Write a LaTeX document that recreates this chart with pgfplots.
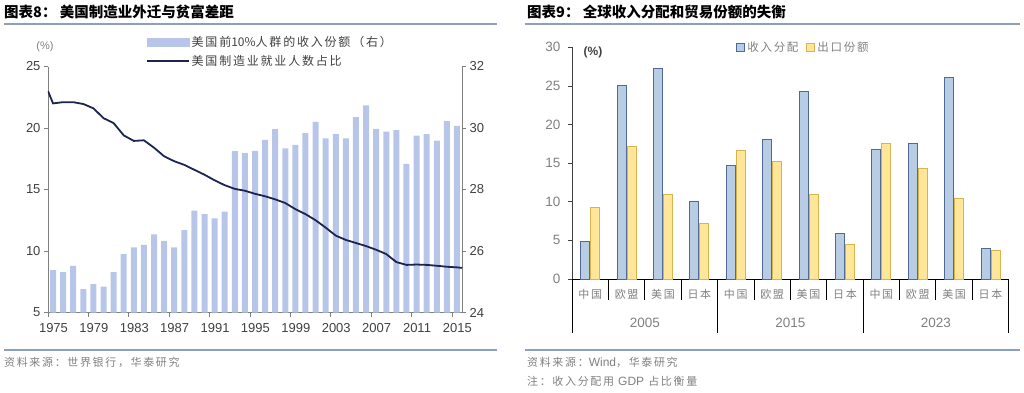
\documentclass[border=0pt]{standalone}
\usepackage{pgfplots}
\pgfplotsset{compat=1.18}
\usepackage{fontspec}
\setmainfont{Liberation Sans}
\newfontfamily\cjk{Noto Sans CJK SC}
\newfontfamily\cjksp[LetterSpace=15]{Noto Sans CJK SC}
\definecolor{barblue}{RGB}{183,198,232}
\definecolor{navyline}{RGB}{28,36,80}
\definecolor{axgray}{RGB}{128,128,128}
\definecolor{txtdark}{RGB}{64,64,64}
\definecolor{txtgray}{RGB}{128,128,128}
\definecolor{rulecol}{RGB}{140,160,190}
\definecolor{cblue}{RGB}{184,204,228}
\definecolor{cblueedge}{RGB}{80,105,150}
\definecolor{cyellow}{RGB}{255,230,153}
\definecolor{cyellowedge}{RGB}{214,180,80}
\begin{document}
\begin{tikzpicture}
\path[use as bounding box] (0pt,0pt) rectangle (1024pt,392pt);
% titles and rules
\node[anchor=west, inner sep=0pt, text=black] at (4pt,380pt) {\cjk\bfseries\fontsize{14.5}{15}\selectfont 图表8：\ 美国制造业外迁与贫富差距};
\node[anchor=west, inner sep=0pt, text=black] at (527pt,380pt) {\cjk\bfseries\fontsize{14.5}{15}\selectfont 图表9：\ 全球收入分配和贸易份额的失衡};
\draw[rulecol, line width=1.3pt] (4pt,368pt) -- (497pt,368pt);
\draw[rulecol, line width=1.3pt] (525pt,368pt) -- (1020pt,368pt);
\draw[rulecol, line width=1.3pt] (4pt,42pt) -- (497pt,42pt);
\draw[rulecol, line width=1.3pt] (525pt,42pt) -- (1020pt,42pt);
\node[anchor=west, inner sep=0pt, text=txtgray] at (4pt,30pt) {\cjksp\fontsize{11}{12}\selectfont 资料来源：世界银行，华泰研究};
\node[anchor=west, inner sep=0pt, text=txtgray] at (527pt,30pt) {\cjksp\fontsize{11}{12}\selectfont 资料来源：{\rmfamily\fontsize{12}{12}\selectfont Wind}，华泰研究};
\node[anchor=west, inner sep=0pt, text=txtgray] at (527pt,11pt) {\cjksp\fontsize{11}{12}\selectfont 注：收入分配用 {\rmfamily\fontsize{12}{12}\selectfont GDP} 占比衡量};
\node[text=txtgray, inner sep=0pt] at (45pt,345pt) {\fontsize{11}{12}\selectfont (\%)};
\node[text=txtdark, inner sep=0pt] at (593pt,340pt) {\bfseries\fontsize{12}{12}\selectfont (\%)};

% ---------- left chart: bars on right axis ----------
\begin{axis}[
  at={(48pt,79.5pt)}, anchor=south west, scale only axis,
  width=414pt, height=246pt,
  xmin=1974.5, xmax=2015.5, ymin=24, ymax=32,
  axis y line*=right, axis x line*=bottom,
  axis line style={draw=axgray, line width=0.8pt},
  ytick={24,26,28,30,32},
  xtick={1974.5,1978.5,1982.5,1986.5,1990.5,1994.5,1998.5,2002.5,2006.5,2010.5,2014.5},
  xticklabels={1975,1979,1983,1987,1991,1995,1999,2003,2007,2011,2015},
  xticklabel style={xshift=5.5pt, yshift=-3pt},
  tick align=outside, major tick length=4pt,
  tick style={draw=axgray, line width=0.8pt},
  ticklabel style={font=\fontsize{13}{13}\selectfont, text=txtdark},
  /pgf/number format/assume math mode=true,
]
\addplot[ybar, bar width=6pt, fill=barblue, draw=none] coordinates {
(1975,25.38) (1976,25.31) (1977,25.52) (1978,24.76) (1979,24.92) (1980,24.84)
(1981,25.31) (1982,25.90) (1983,26.12) (1984,26.20) (1985,26.54) (1986,26.33)
(1987,26.12) (1988,26.68) (1989,27.31) (1990,27.20) (1991,27.06) (1992,27.28)
(1993,29.25) (1994,29.18) (1995,29.26) (1996,29.61) (1997,29.96) (1998,29.34)
(1999,29.45) (2000,29.83) (2001,30.20) (2002,29.66) (2003,29.80) (2004,29.66)
(2005,30.35) (2006,30.74) (2007,29.97) (2008,29.88) (2009,29.93) (2010,28.83)
(2011,29.75) (2012,29.80) (2013,29.59) (2014,30.22) (2015,30.07)
};
\end{axis}

% ---------- left chart: line on left axis ----------
\begin{axis}[
  at={(48pt,79.5pt)}, anchor=south west, scale only axis,
  width=414pt, height=246pt,
  xmin=1974.5, xmax=2015.5, ymin=5, ymax=25,
  axis y line*=left, axis x line=none,
  axis line style={draw=axgray, line width=0.8pt},
  ytick={5,10,15,20,25},
  tick align=outside, major tick length=4pt,
  tick style={draw=axgray, line width=0.8pt},
  ticklabel style={font=\fontsize{13}{13}\selectfont, text=txtdark},
  /pgf/number format/assume math mode=true,
  legend style={at={(0.236,1.132)}, anchor=north west, draw=none, fill=none,
    font=\cjksp\fontsize{12}{12}\selectfont, text=txtdark, row sep=3pt, inner sep=0pt},
  legend cell align=left,
]
\addlegendimage{legend image code/.code={\fill[barblue] (0pt,-4pt) rectangle (42pt,4pt);}}
\addlegendentry{美国前{\cjk 10\%}人群的收入份额（右）}
\addplot[navyline, line width=1.8pt,
  legend image code/.code={\draw[navyline, line width=1.8pt] (0pt,0pt) -- (42pt,0pt);}] coordinates {
(1974.5,23.0) (1975,22.0) (1976,22.1) (1977,22.1) (1978,21.95) (1979,21.6) (1980,20.8)
(1981,20.4) (1982,19.4) (1983,18.95) (1984,19.0) (1985,18.4) (1986,17.7) (1987,17.3)
(1988,17.0) (1989,16.6) (1990,16.2) (1991,15.75) (1992,15.35) (1993,15.05) (1994,14.9)
(1995,14.65) (1996,14.45) (1997,14.2) (1998,13.9) (1999,13.4) (2000,13.0) (2001,12.5)
(2002,11.9) (2003,11.25) (2004,10.9) (2005,10.65) (2006,10.4) (2007,10.1) (2008,9.75)
(2009,9.1) (2010,8.87) (2011,8.9) (2012,8.87) (2013,8.8) (2014,8.72) (2015,8.67) (2015.5,8.63)
};
\addlegendentry{美国制造业就业人数占比}
\end{axis}

% ---------- right chart ----------
\begin{axis}[
  at={(572pt,113pt)}, anchor=south west, scale only axis,
  width=436.7pt, height=231.7pt,
  xmin=0, xmax=12, ymin=0, ymax=30,
  axis y line*=left, axis x line*=bottom,
  x axis line style={draw=black, line width=0.9pt},
  y axis line style={draw=txtdark, line width=0.8pt},
  ytick={0,5,10,15,20,25,30},
  xtick={0.5,1.5,2.5,3.5,4.5,5.5,6.5,7.5,8.5,9.5,10.5,11.5},
  xticklabels={中国,欧盟,美国,日本,中国,欧盟,美国,日本,中国,欧盟,美国,日本},
  xtick style={draw=none},
  ytick style={draw=txtdark, line width=0.8pt},
  tick align=outside, major tick length=4pt,
  yticklabel style={font=\fontsize{13.5}{13.5}\selectfont, text=txtgray, xshift=-4pt},
  xticklabel style={font=\cjksp\fontsize{11}{11}\selectfont, text=txtgray, yshift=-3pt},
  /pgf/number format/assume math mode=true,
  clip=false,
  legend style={at={(0.376,1.001)}, anchor=west, draw=none, fill=none,
    font=\cjksp\fontsize{11.5}{12}\selectfont, text=txtgray, inner sep=0pt,
    /tikz/every even column/.append style={column sep=6pt}},
  legend columns=2,
  legend image code/.code={\draw[#1] (0pt,-4pt) rectangle (8pt,4pt);},
]
\addplot[ybar, bar width=9pt, bar shift=-5pt, fill=cblue, draw=cblueedge, line width=0.9pt] coordinates {
(0.5,4.8) (1.5,25.0) (2.5,27.3) (3.5,10.1)
(4.5,14.7) (5.5,18.1) (6.5,24.3) (7.5,5.9)
(8.5,16.8) (9.5,17.5) (10.5,26.1) (11.5,4.0)
};
\addlegendentry{收入分配}
\addplot[ybar, bar width=9pt, bar shift=5pt, fill=cyellow, draw=cyellowedge, line width=0.9pt] coordinates {
(0.5,9.25) (1.5,17.2) (2.5,10.95) (3.5,7.2)
(4.5,16.6) (5.5,15.2) (6.5,10.95) (7.5,4.5)
(8.5,17.5) (9.5,14.3) (10.5,10.45) (11.5,3.75)
};
\addlegendentry{出口份额}
\pgfplotsinvokeforeach{1,2,3,5,6,7,9,10,11}{
  \draw[black, line width=0.9pt] (axis cs:#1,0) -- ++(0pt,-21pt);
}
\pgfplotsinvokeforeach{0,4,8,12}{
  \draw[black, line width=0.9pt] (axis cs:#1,0) -- ++(0pt,-54pt);
}
\node[text=txtgray, font=\fontsize{13.5}{13.5}\selectfont] at ([yshift=-44pt]axis cs:2,0) {2005};
\node[text=txtgray, font=\fontsize{13.5}{13.5}\selectfont] at ([yshift=-44pt]axis cs:6,0) {2015};
\node[text=txtgray, font=\fontsize{13.5}{13.5}\selectfont] at ([yshift=-44pt]axis cs:10,0) {2023};
\end{axis}
\end{tikzpicture}
\end{document}
